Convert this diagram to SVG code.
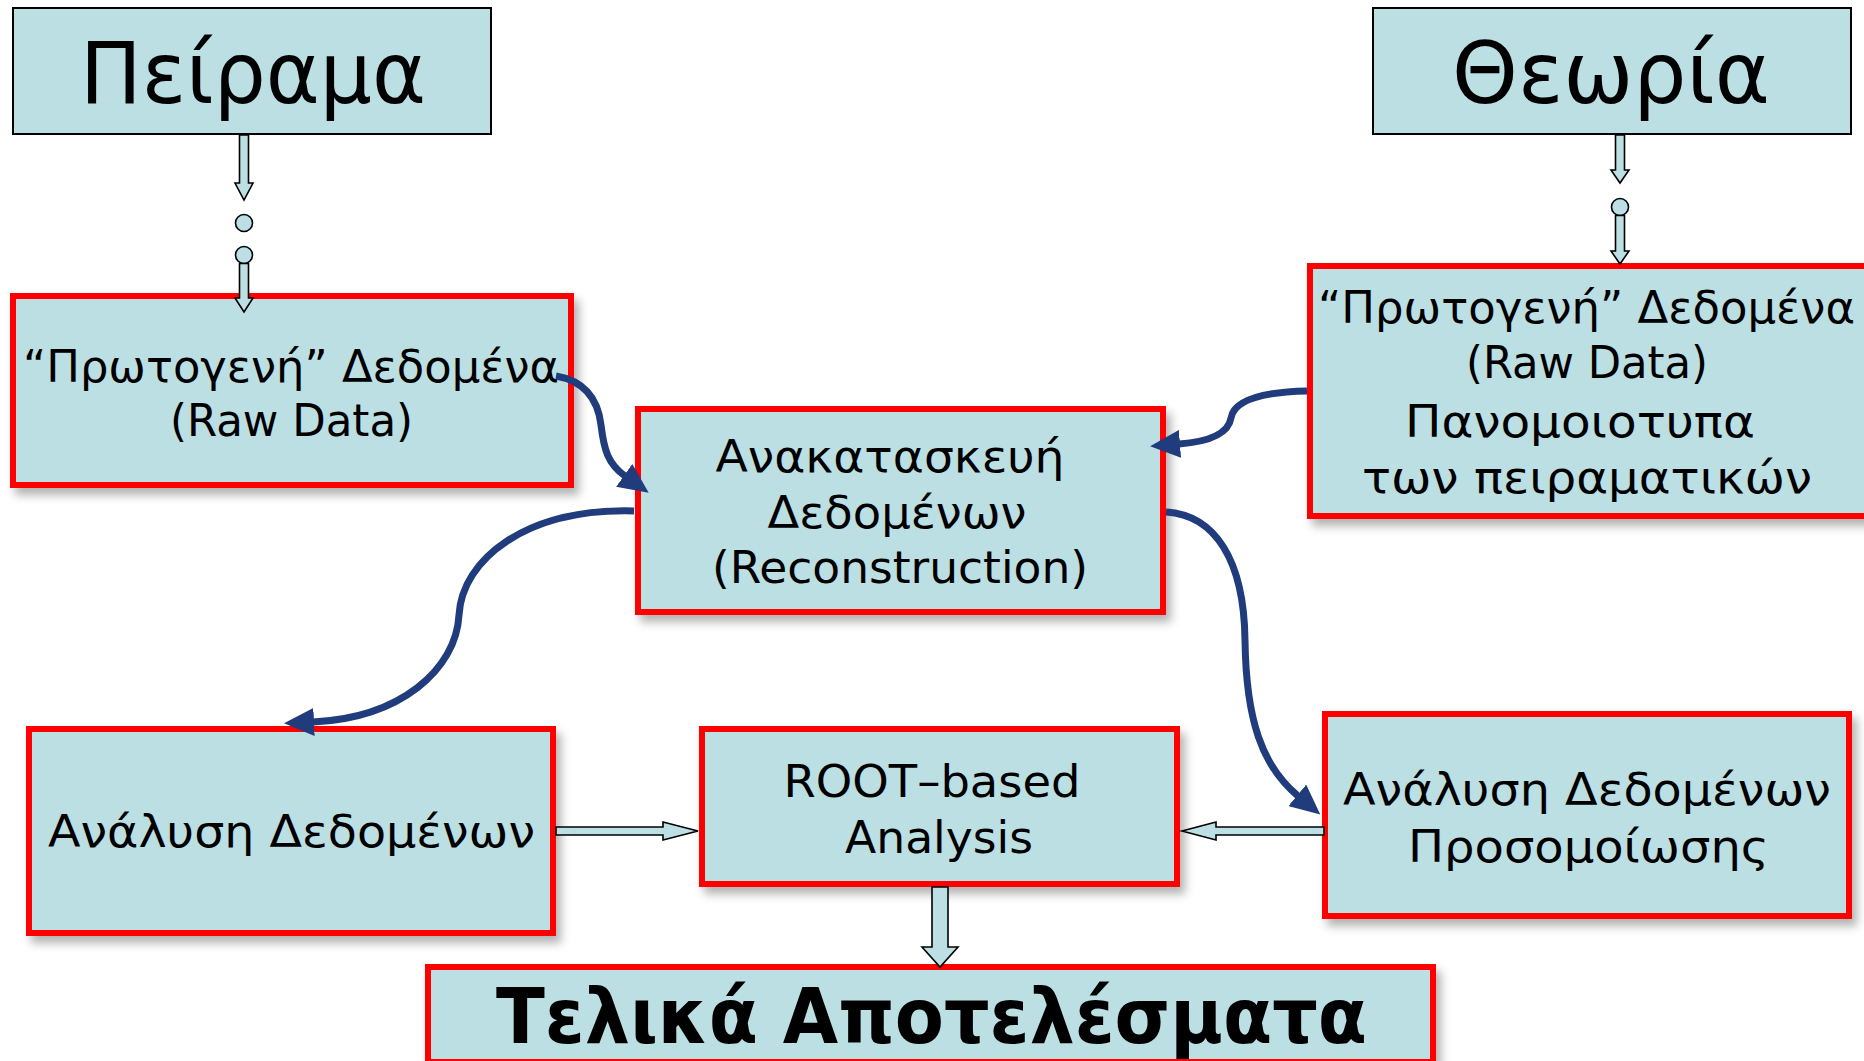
<svg xmlns="http://www.w3.org/2000/svg" width="1864" height="1061" viewBox="0 0 1864 1061">
  <style>
    .box { fill: #bbdfe3; stroke: #ff0000; stroke-width: 6; filter: url(#shadow); }
    .plain { fill: #bbdfe3; stroke: #000000; stroke-width: 2; }
    .lbl { font-family: "DejaVu Sans", "Noto Sans", sans-serif; font-size: 44px; fill: #000; text-anchor: middle; }
    .big { font-size: 85px; }
    .bold { font-size: 77px; font-weight: bold; }
    .block { fill: #bbdfe3; stroke: #000; stroke-width: 1.6; stroke-linejoin: miter; }
    .curve { fill: none; stroke: #203c7c; stroke-width: 7; }
  </style>
  <defs>
    <filter id="shadow" x="-10%" y="-10%" width="125%" height="130%">
      <feDropShadow dx="5" dy="7" stdDeviation="5" flood-color="#000" flood-opacity="0.3"/>
    </filter>
    <marker id="head" markerUnits="userSpaceOnUse" viewBox="0 0 30 28" refX="1" refY="14" markerWidth="30" markerHeight="28" orient="auto">
      <path d="M0,0 L30,14 L0,28 z" fill="#203c7c"/>
    </marker>
  </defs>

  <rect width="1864" height="1061" fill="#ffffff"/>

  <!-- top sources -->
  <g id="experiment">
    <rect class="plain" x="13" y="8" width="478" height="126"/>
    <text class="lbl big" x="253" y="103" textLength="346" lengthAdjust="spacingAndGlyphs">Πείραμα</text>
  </g>
  <g id="theory">
    <rect class="plain" x="1373" y="8" width="478" height="126"/>
    <text class="lbl big" x="1611" y="103" textLength="318" lengthAdjust="spacingAndGlyphs">Θεωρία</text>
  </g>

  <!-- raw data -->
  <g id="raw-exp">
    <rect class="box" x="13" y="296" width="558" height="189"/>
    <text class="lbl" x="291" y="382" textLength="536" lengthAdjust="spacingAndGlyphs">“Πρωτογενή” Δεδομένα</text>
    <text class="lbl" x="291.5" y="436" textLength="243" lengthAdjust="spacingAndGlyphs">(Raw Data)</text>
  </g>
  <g id="raw-sim">
    <rect class="box" x="1310" y="266" width="560" height="250"/>
    <text class="lbl" x="1586.5" y="323" textLength="537" lengthAdjust="spacingAndGlyphs">“Πρωτογενή” Δεδομένα</text>
    <text class="lbl" x="1587" y="378" textLength="242" lengthAdjust="spacingAndGlyphs">(Raw Data)</text>
    <text class="lbl" x="1580" y="437" textLength="350" lengthAdjust="spacingAndGlyphs">Πανομοιοτυπα</text>
    <text class="lbl" x="1587" y="493" textLength="450" lengthAdjust="spacingAndGlyphs">των πειραματικών</text>
  </g>

  <!-- reconstruction -->
  <g id="reconstruction">
    <rect class="box" x="638" y="409" width="525" height="203"/>
    <text class="lbl" x="890" y="472" textLength="349" lengthAdjust="spacingAndGlyphs">Ανακατασκευή</text>
    <text class="lbl" x="897" y="528" textLength="259" lengthAdjust="spacingAndGlyphs">Δεδομένων</text>
    <text class="lbl" x="900" y="583" textLength="376" lengthAdjust="spacingAndGlyphs">(Reconstruction)</text>
  </g>

  <!-- analysis row -->
  <g id="analysis-exp">
    <rect class="box" x="29" y="729" width="524" height="204"/>
    <text class="lbl" x="291.5" y="847" textLength="487" lengthAdjust="spacingAndGlyphs">Ανάλυση Δεδομένων</text>
  </g>
  <g id="root-analysis">
    <rect class="box" x="702" y="729" width="475" height="155"/>
    <text class="lbl" x="932" y="797" textLength="297" lengthAdjust="spacingAndGlyphs">ROOT–based</text>
    <text class="lbl" x="939" y="853" textLength="188" lengthAdjust="spacingAndGlyphs">Analysis</text>
  </g>
  <g id="analysis-sim">
    <rect class="box" x="1325" y="714" width="524" height="202"/>
    <text class="lbl" x="1587" y="805" textLength="488" lengthAdjust="spacingAndGlyphs">Ανάλυση Δεδομένων</text>
    <text class="lbl" x="1588.5" y="862" textLength="361" lengthAdjust="spacingAndGlyphs">Προσομοίωσης</text>
  </g>

  <!-- final results -->
  <g id="results">
    <rect class="box" x="428" y="967" width="1005" height="95"/>
    <text class="lbl bold" x="931.5" y="1043" textLength="871" lengthAdjust="spacingAndGlyphs">Τελικά Αποτελέσματα</text>
  </g>

  <!-- connectors -->
  <g id="connectors">
    <!-- experiment to raw data, with gap dots -->
    <polygon class="block" points="239.5,135 248.5,135 248.5,183 253,183 244,200 235,183 239.5,183"/>
    <circle class="block" cx="244" cy="223" r="8.5"/>
    <circle class="block" cx="244" cy="255" r="8.5"/>
    <polygon class="block" points="239.5,263.5 248.5,263.5 248.5,298 253,298 244,312 235,298 239.5,298"/>

    <!-- theory to simulated raw data -->
    <polygon class="block" points="1615.5,135 1624.5,135 1624.5,170 1629,170 1620,183 1611,170 1615.5,170"/>
    <circle class="block" cx="1620" cy="207" r="8.5"/>
    <polygon class="block" points="1615.5,215.5 1624.5,215.5 1624.5,251 1629,251 1620,264 1611,251 1615.5,251"/>

    <!-- analyses into ROOT -->
    <polygon class="block" points="556,827 663,827 663,822 698,831 663,840 663,835 556,835"/>
    <polygon class="block" points="1324,827 1216,827 1216,822 1182,831 1216,840 1216,835 1324,835"/>

    <!-- ROOT to final results -->
    <polygon class="block" points="932,887 948,887 948,947 958,947 940,967 922,947 932,947"/>

    <!-- curved flow arrows -->
    <path class="curve" marker-end="url(#head)" d="M556,376 C585,381 598,400 601,425 C604,450 608,464 625,476"/>
    <path class="curve" marker-end="url(#head)" d="M1307,391 C1262,392 1234,400 1231,418 C1228,436 1205,442 1179,444"/>
    <path class="curve" marker-end="url(#head)" d="M634,511 C525,508 462,560 459,615 C456,670 400,718 313,722"/>
    <path class="curve" marker-end="url(#head)" d="M1166,512 C1215,515 1244,560 1245,640 C1246,720 1262,766 1298,796"/>
  </g>
</svg>
